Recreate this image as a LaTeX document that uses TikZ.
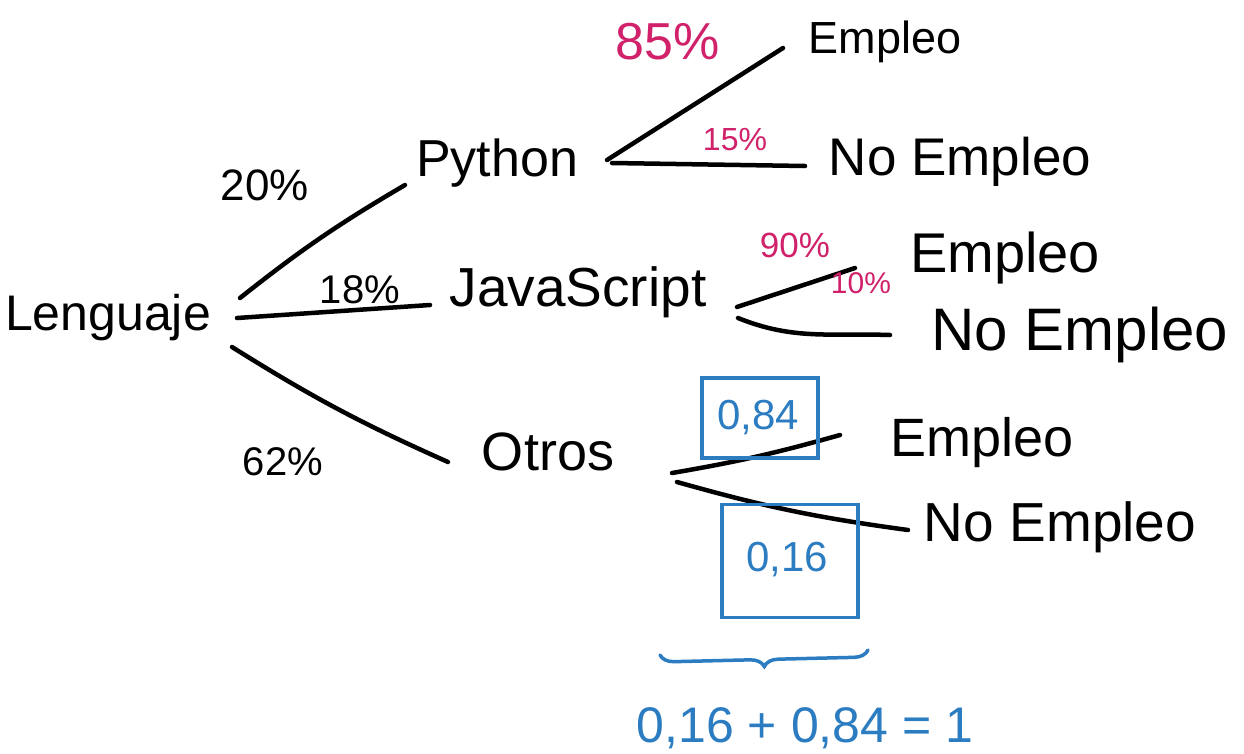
\documentclass[tikz,border=0pt]{standalone}
\usepackage{fontspec}
\setmainfont{Liberation Sans}
\usetikzlibrary{decorations.pathreplacing}
\definecolor{magink}{HTML}{D0216A}
\definecolor{blueink}{HTML}{2B7CC0}
\begin{document}
\begin{tikzpicture}[x=1pt,y=1pt,
  edge/.style={line width=4.5pt,line cap=round,black},
  txt/.style={inner sep=0pt,font=\fontsize{#1}{#1}\selectfont},
  mag/.style={txt=#1,text=magink},
  blu/.style={txt=#1,text=blueink},
  box/.style={draw=blueink,line width=3.5pt,inner sep=0pt}]
\fill[white] (0,0) rectangle (1244,-753);
\useasboundingbox (0,0) rectangle (1244,-753);
% nodes
\node[txt=50] (lang) at (108,-318) {Lenguaje};
\node[txt=52] (py) at (497,-163) {Python};
\node[txt=55] (js) at (578,-292) {JavaScript};
\node[txt=54] (ot) at (548,-452) {Otros};
\node[txt=45] (pyE) at (885,-42) {Empleo};
\node[txt=53] (pyN) at (960,-162) {No Empleo};
\node[txt=56] (jsE) at (1005,-258) {Empleo};
\node[txt=60] (jsN) at (1080,-335) {No Empleo};
\node[txt=54] (otE) at (982,-443) {Empleo};
\node[txt=55] (otN) at (1060,-527) {No Empleo};
% edges
\draw[edge] ([shift={(132,20)}]lang.center) to[bend left=4] ([shift={(-92,-22)}]py.center);
\draw[edge] ([shift={(129,0)}]lang.center) -- ([shift={(-148,-13)}]js.center);
\draw[edge] ([shift={(124,-29)}]lang.center) to[bend right=4] ([shift={(-100,-10)}]ot.center);
\draw[edge] ([shift={(110,3)}]py.center) -- ([shift={(-102,-6)}]pyE.center);
\draw[edge] ([shift={(115,0)}]py.center) -- ([shift={(-155,-4)}]pyN.center);
\draw[edge] ([shift={(159,-15)}]js.center) -- ([shift={(-150,-10)}]jsE.center);
\draw[edge] ([shift={(160,-26)}]js.center) to[out=-22,in=178] ([shift={(-190,0)}]jsN.center);
\draw[edge] ([shift={(124,-21)}]ot.center) to[bend right=3] ([shift={(-142,8)}]otE.center);
\draw[edge] ([shift={(129,-30)}]ot.center) to[bend right=4] ([shift={(-152,-3)}]otN.center);
% probability labels
\node[txt=44] (p20) at (265,-185) {20\%};
\node[txt=40] (p18) at (360,-290) {18\%};
\node[txt=40] (p62) at (283,-462) {62\%};
\node[mag=52] (p85) at (668,-42) {85\%};
\node[mag=32] (p15) at (735,-140) {15\%};
\node[mag=35] (p90) at (795,-245) {90\%};
\node[mag=30] (p10) at (861,-283) {10\%};
% blue boxes
\node[box,minimum width=116pt,minimum height=80pt] (b84) at (760,-418) {};
\node[blu=42] (t84) at (758,-418) {0,84};
\node[box,minimum width=136pt,minimum height=113pt] (b16) at (790,-561) {};
\node[blu=42] (t16) at (787,-560) {0,16};
% brace and sum
\coordinate (brL) at (660,-655);
\coordinate (brR) at (868,-650);
\draw[blueink,line width=3.5pt,line cap=round,decorate,decoration={brace,mirror,amplitude=14pt}] (brL) -- (brR);
\node[blu=50] (eq) at (805,-728) {0,16 + 0,84 = 1};
\end{tikzpicture}
\end{document}
